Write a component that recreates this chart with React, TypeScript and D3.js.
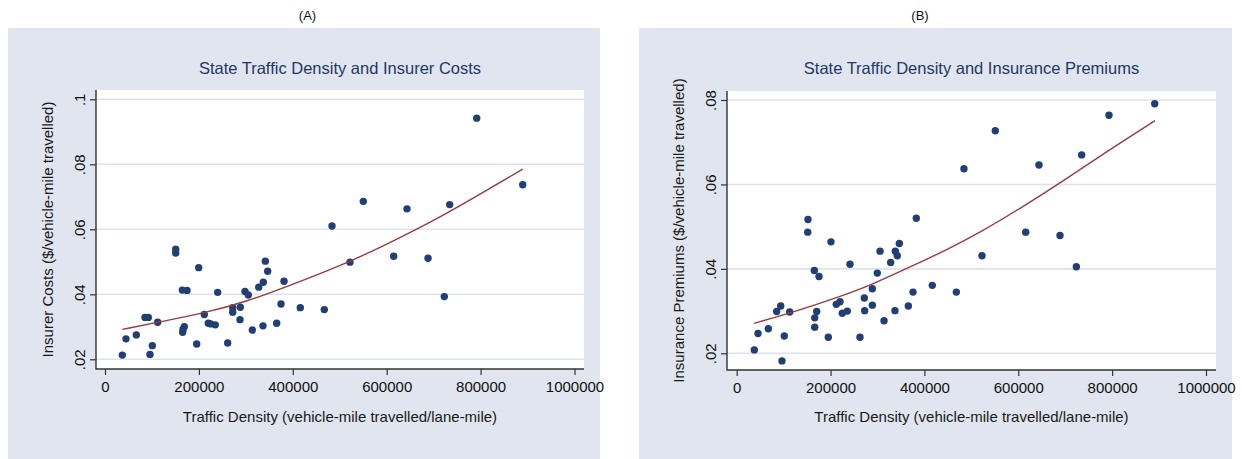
import React, { useEffect, useRef } from "react";
import { select, scaleLinear, axisLeft, axisBottom, line, curveBasis, format } from "d3";

// tick values
const xTicks = [0, 200000, 400000, 600000, 800000, 1000000];
const yTicksA = [0.02, 0.04, 0.06, 0.08, 0.1];
const yTicksB = [0.02, 0.04, 0.06, 0.08];

// (A) traffic density vs insurer costs, one point per state
const densityA = [36900, 44700, 66700, 85200, 92300, 95800, 100800, 112200, 150600, 150600,
    164700, 174700, 168900, 166100, 165500, 199600, 195300, 211500, 220000, 225100,
    234900, 240000, 261300, 272000, 272000, 288200, 287500, 298200, 305200, 313800,
    327400, 337200, 336500, 341500, 346500, 365700, 374900, 381300, 416000, 467100,
    483500, 521800, 550200, 614900, 643200, 688000, 722700, 734200, 791700, 889700];
const costsA = [0.0213, 0.0263, 0.0275, 0.0329, 0.0329, 0.0215, 0.0242, 0.0314, 0.0539, 0.0527,
    0.0413, 0.0412, 0.0300, 0.0292, 0.0283, 0.0482, 0.0247, 0.0338, 0.0311, 0.0309,
    0.0306, 0.0406, 0.0250, 0.0359, 0.0345, 0.0360, 0.0322, 0.0409, 0.0398, 0.0290,
    0.0422, 0.0437, 0.0303, 0.0502, 0.0471, 0.0311, 0.0370, 0.0440, 0.0359, 0.0353,
    0.0610, 0.0499, 0.0686, 0.0517, 0.0663, 0.0511, 0.0393, 0.0676, 0.0942, 0.0737];
// fitted curve
const fitDensityA = [36900, 112200, 211500, 305200, 394000, 521800, 600000, 692200, 791700, 889700];
const fitCostsA = [0.0292, 0.0314, 0.0342, 0.0379, 0.0427, 0.0500, 0.0554, 0.0620, 0.0702, 0.0785];

// (B) traffic density vs insurance premiums
const densityB = [37500, 45400, 67400, 85200, 93800, 96500, 101400, 112900, 151900, 151300,
    165400, 175400, 170500, 166200, 166200, 200900, 195200, 212200, 220100, 225000,
    235700, 241400, 262700, 271900, 272700, 289000, 289000, 305400, 299600, 313900,
    328100, 338000, 342200, 346500, 337300, 365700, 375700, 382700, 416800, 468000,
    484300, 522700, 551000, 615800, 644100, 688900, 723700, 735100, 793300, 890700];
const premiumsB = [0.0208, 0.0247, 0.0258, 0.0299, 0.0312, 0.0182, 0.0241, 0.0298, 0.0517, 0.0487,
    0.0396, 0.0382, 0.0299, 0.0284, 0.0262, 0.0464, 0.0238, 0.0316, 0.0322, 0.0295,
    0.0300, 0.0411, 0.0238, 0.0331, 0.0301, 0.0353, 0.0314, 0.0442, 0.0390, 0.0277,
    0.0415, 0.0442, 0.0431, 0.0460, 0.0301, 0.0312, 0.0345, 0.0520, 0.0361, 0.0345,
    0.0637, 0.0431, 0.0727, 0.0487, 0.0646, 0.0479, 0.0405, 0.0670, 0.0764, 0.0791];
const fitDensityB = [36900, 113600, 220100, 291100, 376300, 447500, 518400, 603700, 688900, 788400, 891300];
const fitPremiumsB = [0.0271, 0.0295, 0.0334, 0.0364, 0.0408, 0.0445, 0.0486, 0.0543, 0.0603, 0.0678, 0.0751];

const FONT = "'Liberation Sans', Arial, sans-serif";
const fmtY = d => String(+d.toFixed(2)).replace(/^0/, "");

function ScatterPanel({ letter, letterX, title, yLabel, xs, ys, fitXs, fitYs, yTicks, box, plot, xRange, yRange }) {
    const gRef = useRef();

    useEffect(() => {
        const g = select(gRef.current);
        g.selectAll("*").remove();

        const xScale = scaleLinear().domain([0, 1000000]).range(xRange);
        const yScale = scaleLinear().domain([yTicks[0], yTicks[yTicks.length - 1]]).range(yRange);

        // graph region
        g.append("rect")
            .attr("x", box.x).attr("y", box.y)
            .attr("width", box.w).attr("height", box.h)
            .attr("fill", "#e0e5ef");

        g.append("text")
            .attr("x", letterX).attr("y", 20)
            .attr("text-anchor", "middle")
            .attr("font-size", 13)
            .attr("fill", "#111")
            .text(letter);

        const cx = (plot.x0 + plot.x1) / 2;
        const cy = (plot.y0 + plot.y1) / 2;

        g.append("text")
            .attr("x", cx).attr("y", 73.5)
            .attr("text-anchor", "middle")
            .attr("font-size", 16.5)
            .attr("fill", "#1f3864")
            .text(title);

        // plot region
        g.append("rect")
            .attr("x", plot.x0).attr("y", plot.y0)
            .attr("width", plot.x1 - plot.x0).attr("height", plot.y1 - plot.y0)
            .attr("fill", "#fff");

        g.append("g")
            .selectAll("line")
            .data(yTicks)
            .join("line")
                .attr("x1", plot.x0).attr("x2", plot.x1)
                .attr("y1", d => yScale(d)).attr("y2", d => yScale(d))
                .attr("stroke", "#dde3ed")
                .attr("stroke-width", 1.6);

        g.append("g")
            .selectAll("circle")
            .data(xs.map((x, i) => [x, ys[i]]))
            .join("circle")
                .attr("cx", d => xScale(d[0]))
                .attr("cy", d => yScale(d[1]))
                .attr("r", 3.7)
                .attr("fill", "#223f75");

        const fitLine = line()
            .x(d => xScale(d[0]))
            .y(d => yScale(d[1]))
            .curve(curveBasis);
        g.append("path")
            .datum(fitXs.map((x, i) => [x, fitYs[i]]))
            .attr("d", fitLine)
            .attr("fill", "none")
            .attr("stroke", "#9b3a40")
            .attr("stroke-width", 1.4);

        // axes
        const xAxis = axisBottom(xScale).tickValues(xTicks).tickSize(6).tickPadding(6.5).tickFormat(format("d"));
        const xg = g.append("g").attr("transform", `translate(0, ${plot.y1})`).call(xAxis);
        xg.select(".domain").remove();
        xg.selectAll("text").attr("font-size", 15).attr("font-family", FONT).attr("fill", "#111");
        xg.selectAll("line").attr("stroke", "#333").attr("stroke-width", 1.2);

        const yAxis = axisLeft(yScale).tickValues(yTicks).tickSize(6).tickFormat(fmtY);
        const yg = g.append("g").attr("transform", `translate(${plot.x0}, 0)`).call(yAxis);
        yg.select(".domain").remove();
        yg.selectAll("text")
            .attr("transform", "rotate(-90)")
            .attr("x", 0).attr("y", -11).attr("dy", 0)
            .attr("text-anchor", "middle")
            .attr("font-size", 15).attr("font-family", FONT).attr("fill", "#111");
        yg.selectAll("line").attr("stroke", "#333").attr("stroke-width", 1.2);

        g.append("path")
            .attr("d", `M${plot.x0},${plot.y0}V${plot.y1}H${plot.x1}`)
            .attr("fill", "none")
            .attr("stroke", "#333")
            .attr("stroke-width", 1.4);

        g.append("text")
            .attr("x", cx).attr("y", 422)
            .attr("text-anchor", "middle")
            .attr("font-size", 15)
            .attr("fill", "#1a1a1a")
            .text("Traffic Density (vehicle-mile travelled/lane-mile)");

        g.append("text")
            .attr("transform", `translate(${plot.x0 - 43}, ${cy}) rotate(-90)`)
            .attr("text-anchor", "middle")
            .attr("font-size", 15)
            .attr("fill", "#1a1a1a")
            .text(yLabel);
    }, [letter, letterX, title, yLabel, xs, ys, fitXs, fitYs, yTicks, box, plot, xRange, yRange]);

    return <g ref={gRef} />;
}

export default function App() {
    return (
        <svg width={1242} height={459} style={{ position: "absolute", left: 0, top: 0, fontFamily: FONT }}>
            <rect width={1242} height={459} fill="#fff" />
            <ScatterPanel
                letter="(A)" letterX={307.5}
                title="State Traffic Density and Insurer Costs"
                yLabel="Insurer Costs ($/vehicle-mile travelled)"
                xs={densityA} ys={costsA} fitXs={fitDensityA} fitYs={fitCostsA}
                yTicks={yTicksA}
                box={{ x: 8, y: 28, w: 592, h: 431 }}
                plot={{ x0: 96, x1: 584, y0: 90, y1: 369 }}
                xRange={[105, 574.5]} yRange={[359.3, 99.3]}
            />
            <ScatterPanel
                letter="(B)" letterX={920}
                title="State Traffic Density and Insurance Premiums"
                yLabel="Insurance Premiums ($/vehicle-mile travelled)"
                xs={densityB} ys={premiumsB} fitXs={fitDensityB} fitYs={fitPremiumsB}
                yTicks={yTicksB}
                box={{ x: 639, y: 28, w: 593, h: 431 }}
                plot={{ x0: 727, x1: 1216, y0: 91, y1: 370 }}
                xRange={[736.7, 1206]} yRange={[353.3, 100]}
            />
        </svg>
    );
}
